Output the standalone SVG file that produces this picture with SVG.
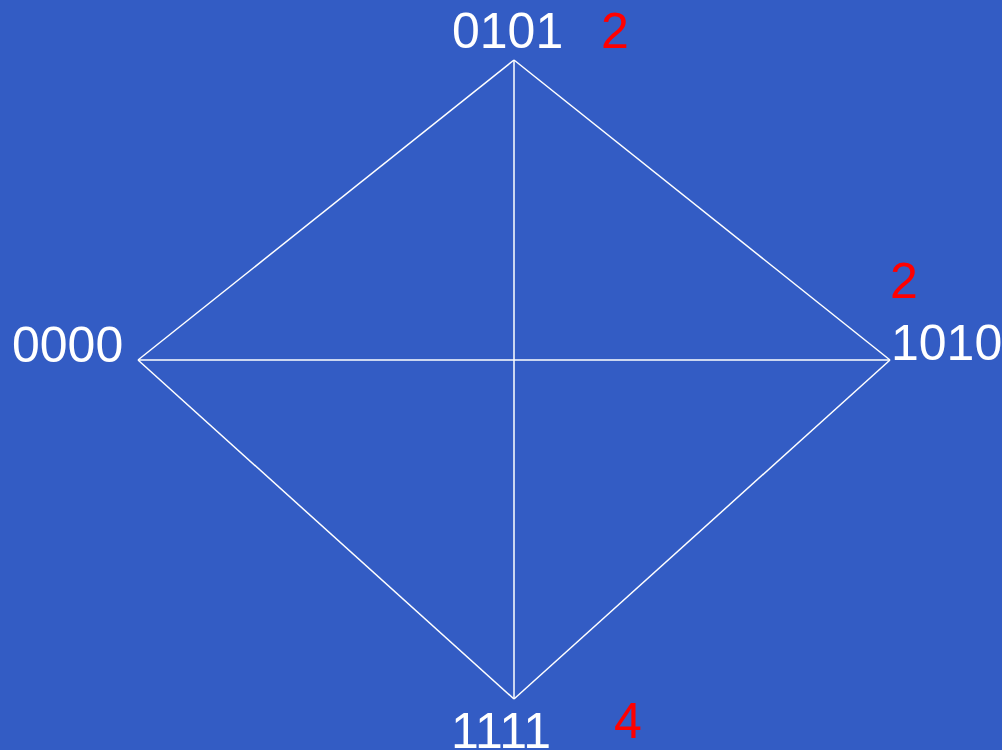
<svg xmlns="http://www.w3.org/2000/svg" width="1002" height="750" viewBox="0 0 1002 750">
<style>
.lbl{font-family:"Liberation Sans",Arial,sans-serif;font-size:50px;fill:#ffffff}
.w{font-family:"Liberation Sans",Arial,sans-serif;font-size:50px;fill:#ff0000}
.e{stroke:#ffffff;stroke-width:1.5;fill:none}
</style>
<rect width="1002" height="750" fill="#335cc4"/>
<g id="edges">
<line class="e" x1="514" y1="60" x2="138" y2="360"/>
<line class="e" x1="514" y1="60" x2="890" y2="360"/>
<line class="e" x1="514" y1="60" x2="514" y2="699"/>
<line class="e" x1="138" y1="360" x2="890" y2="360"/>
<line class="e" x1="138" y1="360" x2="514" y2="699"/>
<line class="e" x1="890" y1="360" x2="514" y2="699"/>
</g>
<g id="n0101"><text class="lbl" x="452" y="48">0101</text><text class="w" x="601" y="48">2</text></g>
<g id="n0000"><text class="lbl" x="12" y="362">0000</text></g>
<g id="n1010"><text class="lbl" x="891" y="360">1010</text><text class="w" x="890" y="298">2</text></g>
<g id="n1111"><text class="lbl" x="451" y="748">1111</text><text class="w" x="614" y="738">4</text></g>
</svg>
